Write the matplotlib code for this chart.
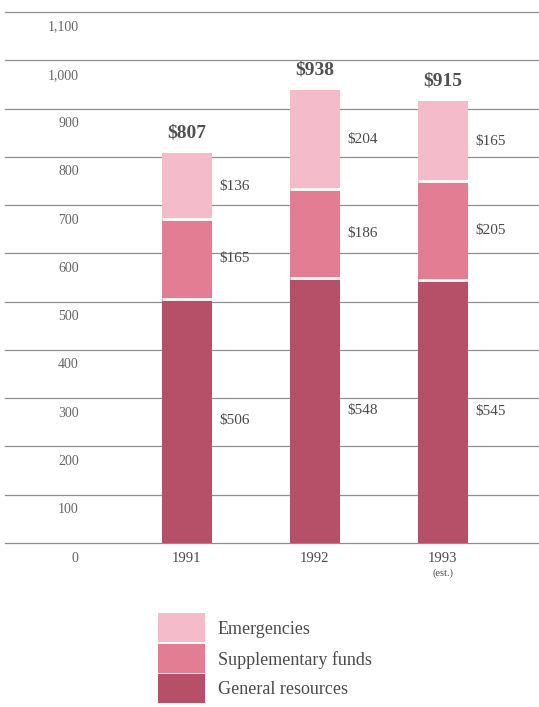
import matplotlib.pyplot as plt
from matplotlib.patches import Rectangle
import numpy as np

# --- Data ($ millions) ---
years = ['1991', '1992', '1993']
year_notes = ['', '', '(est.)']
general = [506, 548, 545]
supplementary = [165, 186, 205]
emergencies = [136, 204, 165]
totals = [807, 938, 915]
yticks = [0, 100, 200, 300, 400, 500, 600, 700, 800, 900, 1000, 1100]

series_names = ['Emergencies', 'Supplementary funds', 'General resources']
c_emerg = '#f4bccb'
c_supp = '#e27d93'
c_gen = '#b64f68'
txt = '#4a4a4a'

plt.rcParams['font.family'] = ['Liberation Serif', 'DejaVu Serif']

W, H = 539, 707
fig = plt.figure(figsize=(W / 100, H / 100), dpi=100)
# axes in pixel terms: x 5..540, y 0 at px 543, 1100 at px 12
ax = fig.add_axes([5 / W, 1 - 543 / H, 535 / W, (543 - 12) / H])
ax.set_ylim(0, 1100)
ax.set_xlim(-1.42, 2.76)
for s in ax.spines.values():
    s.set_visible(False)
ax.set_xticks([])
ax.set_yticks([])

# gridlines + labels sitting below each line
for v in yticks:
    ax.axhline(v, color='#8f8f8f', lw=0.9, zorder=1, clip_on=False)
    ax.annotate(f'{v:,}', xy=(0.138, v), xycoords=('axes fraction', 'data'),
                xytext=(0, -15), textcoords='offset pixels',
                ha='right', va='center', fontsize=10, color='#666666',
                annotation_clip=False)

x = np.arange(len(years))
bw = 0.39
ax.bar(x, general, bw, color=c_gen, edgecolor='none', zorder=2)
ax.bar(x, supplementary, bw, bottom=general, color=c_supp, edgecolor='none', zorder=2)
bot3 = np.array(general) + np.array(supplementary)
ax.bar(x, emergencies, bw, bottom=bot3, color=c_emerg, edgecolor='none', zorder=2)
# white separators between segments
ax.hlines(general, x - bw / 2, x + bw / 2, color='white', lw=2, zorder=3)
ax.hlines(bot3, x - bw / 2, x + bw / 2, color='white', lw=2, zorder=3)

# segment labels to the right
for i in range(len(years)):
    segs = [(0, general[i]), (general[i], supplementary[i]), (bot3[i], emergencies[i])]
    for b, h in segs:
        ax.text(x[i] + bw / 2 + 0.06, b + h / 2, f'${h}', ha='left', va='center',
                fontsize=11, color=txt, zorder=3)
    ax.annotate(f'${totals[i]}', xy=(x[i], totals[i]), xytext=(0, 20),
                textcoords='offset pixels', ha='center', va='center',
                fontsize=14, fontweight='bold', color='#505050')
    ax.annotate(years[i], xy=(x[i], 0), xytext=(0, -16), textcoords='offset pixels',
                ha='center', va='center', fontsize=10.5, color=txt, annotation_clip=False)
    if year_notes[i]:
        ax.annotate(year_notes[i], xy=(x[i], 0), xytext=(0, -30), textcoords='offset pixels',
                    ha='center', va='center', fontsize=7.5, color=txt, annotation_clip=False)

# legend drawn by hand
leg_colors = [c_emerg, c_supp, c_gen]
leg_y = [612, 643, 673]
for name, col, y in zip(series_names, leg_colors, leg_y):
    fig.patches.append(Rectangle((158 / W, 1 - (y + 30) / H), 47 / W, 29 / H,
                                 transform=fig.transFigure, facecolor=col,
                                 edgecolor='none'))
    fig.text(218 / W, 1 - (y + 17) / H, name, ha='left', va='center',
             fontsize=13, color=txt)

fig.savefig('out.png', dpi=100)
